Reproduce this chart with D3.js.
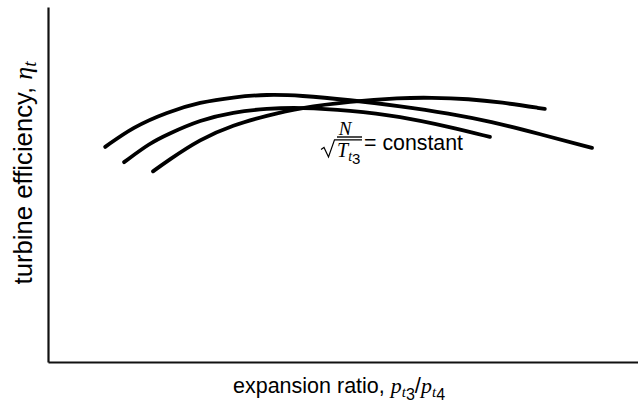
<!DOCTYPE html>
<html>
<head>
<meta charset="utf-8">
<script src="https://cdn.jsdelivr.net/npm/d3@7"></script>
<style>
  html, body { margin: 0; padding: 0; background: #fff; }
  svg { display: block; }
  .sans { font-family: "Liberation Sans", Arial, sans-serif; }
  .math { font-family: "Liberation Serif", "Times New Roman", serif; font-style: italic; }
</style>
</head>
<body>
<svg id="chart" width="638" height="412"></svg>
<script>
// Turbine efficiency vs. expansion ratio, one line per corrected speed N/sqrt(Tt3)
const ratioA = [0.97, 1.44, 2.02, 2.58, 3.14, 3.71, 4.27, 5.12, 5.97, 6.81, 7.49, 8.34, 9.22];
const effA   = [60.6, 66.2, 70.4, 73.2, 74.6, 75.4, 75.1, 73.8, 72.1, 70.0, 67.8, 64.2, 60.3];

const ratioB = [1.29, 1.73, 2.02, 2.58, 3.14, 3.71, 4.27, 5.12, 5.97, 6.81, 7.49];
const effB   = [56.3, 61.7, 64.1, 68.2, 70.4, 71.4, 71.7, 70.9, 69.2, 66.2, 63.4];

const ratioC = [1.78, 2.02, 2.58, 3.14, 3.71, 4.27, 5.12, 5.97, 6.48, 7.15, 7.66, 8.42];
const effC   = [53.7, 56.6, 62.8, 66.8, 69.4, 71.6, 73.4, 74.4, 74.5, 74.1, 73.2, 71.3];

const xDomain = [0, 10];
const yDomain = [0, 100];

const width = 638, height = 412;
const margin = { top: 7, right: 0, bottom: 50, left: 48 };

const svg = d3.select("#chart");

const x = d3.scaleLinear().domain(xDomain).range([margin.left, width - margin.right]);
const y = d3.scaleLinear().domain(yDomain).range([height - margin.bottom, margin.top]);

// Bare axes: no ticks, just the two spines
const xAxis = svg.append("g")
  .attr("transform", `translate(0,${height - margin.bottom})`)
  .call(d3.axisBottom(x).tickValues([]).tickSizeOuter(0));
const yAxis = svg.append("g")
  .attr("transform", `translate(${margin.left},0)`)
  .call(d3.axisLeft(y).tickValues([]).tickSizeOuter(0));
[xAxis, yAxis].forEach(g => g.select(".domain")
  .attr("stroke", "#111").attr("stroke-width", 2.2));

// Efficiency lines
const series = [
  { xs: ratioA, ys: effA },
  { xs: ratioB, ys: effB },
  { xs: ratioC, ys: effC }
];
const line = d3.line()
  .x(d => x(d[0]))
  .y(d => y(d[1]))
  .curve(d3.curveBasis);

svg.append("g").selectAll("path")
  .data(series)
  .join("path")
  .attr("d", s => line(s.xs.map((v, i) => [v, s.ys[i]])))
  .attr("fill", "none")
  .attr("stroke", "#000")
  .attr("stroke-width", 3.8)
  .attr("stroke-linecap", "round");

// Annotation: N / sqrt(T_t3) = constant
const ann = svg.append("g").attr("transform", "translate(320,0)");
ann.append("text").attr("class", "math")
  .attr("x", 25).attr("y", 135).attr("text-anchor", "middle")
  .attr("font-size", 19).text("N");
ann.append("line").attr("x1", 17).attr("x2", 42).attr("y1", 137).attr("y2", 137)
  .attr("stroke", "#000").attr("stroke-width", 1.4);
// radical sign with its overbar
ann.append("path")
  .attr("d", "M1,149.5 L4,147.5 L8.5,157 L14.5,139.8 L42,139.8")
  .attr("fill", "none").attr("stroke", "#000").attr("stroke-width", 1.2)
  .attr("stroke-linejoin", "miter");
const tt = ann.append("text").attr("x", 17).attr("y", 156.5).attr("font-size", 20);
tt.append("tspan").attr("class", "math").text("T");
tt.append("tspan").attr("class", "math").attr("font-size", 14).attr("dy", 4).text("t");
tt.append("tspan").attr("class", "sans").attr("font-size", 15).attr("dy", 3).text("3");
ann.append("text").attr("class", "sans")
  .attr("transform", "translate(44,149.5) scale(0.97,1)")
  .attr("font-size", 22).text("= constant");

// Axis titles
const xt = svg.append("text")
  .attr("transform", "translate(233,393)")
  .attr("font-size", 21.5);
xt.append("tspan").attr("class", "sans").text("expansion ratio, ");
xt.append("tspan").attr("class", "math").attr("font-size", 22).text("p");
xt.append("tspan").attr("class", "math").attr("font-size", 15).attr("dy", 4).text("t");
xt.append("tspan").attr("class", "sans").attr("font-size", 16).attr("dy", 3).text("3");
xt.append("tspan").attr("class", "sans").attr("font-size", 22).attr("dy", -7).text("/");
xt.append("tspan").attr("class", "math").attr("font-size", 22).text("p");
xt.append("tspan").attr("class", "math").attr("font-size", 15).attr("dy", 4).text("t");
xt.append("tspan").attr("class", "sans").attr("font-size", 16).attr("dy", 3).text("4");

const yt = svg.append("text")
  .attr("transform", "translate(32,173) rotate(-90)")
  .attr("text-anchor", "middle").attr("font-size", 25.7);
yt.append("tspan").attr("class", "sans").text("turbine efficiency, ");
yt.append("tspan").attr("class", "math").attr("font-size", 26).text("\u03B7");
yt.append("tspan").attr("class", "math").attr("font-size", 19).attr("dy", 4).text("t");
</script>
</body>
</html>
